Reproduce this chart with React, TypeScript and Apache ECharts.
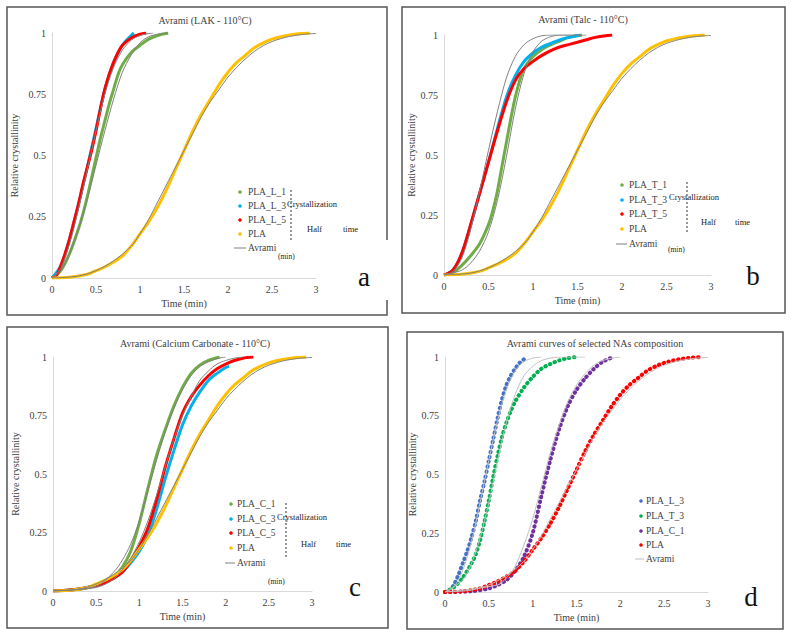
import React, { useEffect, useRef } from "react";
import * as echarts from "echarts";

const X_TICKS = [0, 0.5, 1, 1.5, 2, 2.5, 3];
const Y_TICKS = [0, 0.25, 0.5, 0.75, 1];

const TITLES = [
  "Avrami (LAK - 110°C)",
  "Avrami (Talc - 110°C)",
  "Avrami (Calcium Carbonate - 110°C)",
  "Avrami curves of selected NAs composition",
];
const PANEL_LETTERS = ["a", "b", "c", "d"];
const LEGEND_A = ["PLA_L_1", "PLA_L_3", "PLA_L_5", "PLA", "Avrami"];
const LEGEND_B = ["PLA_T_1", "PLA_T_3", "PLA_T_5", "PLA", "Avrami"];
const LEGEND_C = ["PLA_C_1", "PLA_C_3", "PLA_C_5", "PLA", "Avrami"];
const LEGEND_D = ["PLA_L_3", "PLA_T_3", "PLA_C_1", "PLA", "Avrami"];

// Neat PLA (shared by all panels)
const PLA = [[0,0],[0.2,0.003],[0.4,0.015],[0.5,0.03],[0.6,0.045],[0.7,0.065],[0.8,0.09],[0.9,0.13],[1.0,0.18],[1.1,0.23],[1.2,0.29],[1.3,0.36],[1.4,0.44],[1.5,0.52],[1.6,0.6],[1.7,0.67],[1.8,0.73],[1.9,0.79],[2.0,0.84],[2.1,0.88],[2.2,0.91],[2.3,0.94],[2.4,0.96],[2.5,0.975],[2.6,0.985],[2.7,0.992],[2.8,0.997],[2.93,1.0]];
const PLA_FIT = [[0,0],[0.3,0.008],[0.5,0.03],[0.7,0.07],[0.9,0.13],[1.0,0.18],[1.1,0.24],[1.2,0.31],[1.3,0.38],[1.4,0.45],[1.5,0.52],[1.6,0.59],[1.7,0.66],[1.8,0.72],[1.9,0.77],[2.0,0.82],[2.1,0.86],[2.2,0.895],[2.3,0.925],[2.4,0.948],[2.5,0.965],[2.6,0.977],[2.7,0.986],[2.8,0.992],[2.9,0.996],[3.0,0.998]];

// Panel a (LAK)
const L1 = [[0,0],[0.1,0.03],[0.2,0.1],[0.3,0.2],[0.35,0.26],[0.4,0.33],[0.45,0.41],[0.5,0.49],[0.55,0.57],[0.6,0.64],[0.65,0.71],[0.7,0.77],[0.75,0.83],[0.8,0.87],[0.9,0.92],[1.0,0.95],[1.1,0.975],[1.2,0.99],[1.32,1.0]];
const L3 = [[0,0],[0.1,0.05],[0.2,0.16],[0.3,0.3],[0.4,0.45],[0.5,0.61],[0.6,0.77],[0.7,0.88],[0.8,0.95],[0.9,0.99],[0.93,1.0]];
const L5 = [[0,0],[0.05,0.01],[0.1,0.05],[0.15,0.1],[0.2,0.16],[0.25,0.23],[0.3,0.3],[0.35,0.38],[0.4,0.45],[0.45,0.52],[0.5,0.6],[0.55,0.69],[0.6,0.77],[0.65,0.83],[0.7,0.88],[0.75,0.92],[0.8,0.95],[0.9,0.98],[1.0,0.995],[1.07,1.0]];
const L1_FIT = [[0,0],[0.1,0.03],[0.2,0.1],[0.3,0.2],[0.4,0.32],[0.5,0.46],[0.6,0.6],[0.7,0.73],[0.8,0.84],[0.9,0.91],[1.0,0.96],[1.1,0.985],[1.2,0.995],[1.32,1.0]];
const L5_FIT = [[0,0],[0.1,0.04],[0.2,0.14],[0.3,0.28],[0.4,0.44],[0.5,0.6],[0.6,0.75],[0.7,0.86],[0.8,0.93],[0.9,0.97],[1.0,0.99],[1.1,0.998],[1.15,1.0]];

// Panel b (Talc)
const T1 = [[0,0],[0.1,0.01],[0.2,0.04],[0.3,0.08],[0.4,0.13],[0.5,0.21],[0.55,0.27],[0.6,0.35],[0.65,0.45],[0.7,0.55],[0.75,0.65],[0.8,0.74],[0.85,0.81],[0.9,0.86],[1.0,0.91],[1.1,0.94],[1.2,0.96],[1.3,0.975],[1.4,0.99],[1.55,1.0]];
const T3 = [[0,0],[0.1,0.02],[0.2,0.09],[0.3,0.21],[0.4,0.34],[0.5,0.47],[0.6,0.61],[0.7,0.74],[0.8,0.83],[0.9,0.89],[1.0,0.925],[1.1,0.95],[1.2,0.965],[1.3,0.98],[1.4,0.99],[1.53,1.0]];
const T5 = [[0,0],[0.1,0.02],[0.2,0.09],[0.3,0.21],[0.4,0.34],[0.5,0.47],[0.6,0.6],[0.7,0.72],[0.8,0.81],[0.9,0.86],[1.0,0.89],[1.1,0.915],[1.2,0.935],[1.3,0.95],[1.4,0.96],[1.5,0.97],[1.6,0.98],[1.7,0.99],[1.8,0.996],[1.89,1.0]];
const T_FAST_FIT = [[0,0],[0.1,0.015],[0.2,0.07],[0.3,0.19],[0.4,0.35],[0.5,0.52],[0.6,0.68],[0.7,0.82],[0.8,0.91],[0.9,0.96],[1.0,0.985],[1.1,0.997],[1.2,1.0],[1.55,1.0]];
const T1_FIT = [[0,0],[0.2,0.02],[0.3,0.05],[0.4,0.1],[0.5,0.18],[0.6,0.31],[0.7,0.49],[0.8,0.69],[0.9,0.84],[1.0,0.93],[1.1,0.975],[1.2,0.993],[1.3,1.0],[1.6,1.0]];

// Panel c (Calcium carbonate)
const C1 = [[0,0],[0.2,0.004],[0.4,0.015],[0.6,0.04],[0.7,0.06],[0.8,0.1],[0.9,0.17],[1.0,0.29],[1.1,0.44],[1.2,0.58],[1.3,0.69],[1.4,0.79],[1.5,0.87],[1.6,0.93],[1.7,0.965],[1.8,0.985],[1.93,1.0]];
const C3 = [[0,0],[0.2,0.004],[0.4,0.015],[0.6,0.035],[0.8,0.08],[0.9,0.12],[1.0,0.17],[1.1,0.24],[1.2,0.35],[1.3,0.48],[1.4,0.6],[1.5,0.71],[1.6,0.79],[1.7,0.85],[1.8,0.9],[1.9,0.93],[2.0,0.955],[2.04,0.96]];
const C5 = [[0,0],[0.2,0.004],[0.4,0.015],[0.6,0.035],[0.8,0.08],[0.9,0.13],[1.0,0.19],[1.1,0.27],[1.2,0.39],[1.3,0.53],[1.4,0.65],[1.5,0.76],[1.6,0.83],[1.7,0.88],[1.8,0.92],[1.9,0.95],[2.0,0.97],[2.1,0.985],[2.2,0.995],[2.32,1.0]];
const C1_FIT = [[0,0],[0.5,0.02],[0.7,0.08],[0.8,0.13],[0.9,0.2],[1.0,0.3],[1.1,0.43],[1.2,0.56],[1.3,0.68],[1.4,0.78],[1.5,0.86],[1.6,0.92],[1.7,0.96],[1.8,0.98],[1.9,0.993],[2.0,1.0]];
const C5_FIT = [[0,0],[0.5,0.015],[0.7,0.05],[0.8,0.09],[0.9,0.14],[1.0,0.21],[1.1,0.3],[1.2,0.41],[1.3,0.53],[1.4,0.65],[1.5,0.75],[1.6,0.83],[1.7,0.9],[1.8,0.94],[1.9,0.97],[2.0,0.985],[2.1,0.995],[2.2,1.0]];

// Panel d (selected)
const D_L3 = [[0,0],[0.05,0.005],[0.1,0.03],[0.15,0.07],[0.2,0.12],[0.25,0.17],[0.3,0.23],[0.35,0.3],[0.4,0.39],[0.45,0.47],[0.5,0.56],[0.55,0.65],[0.6,0.74],[0.65,0.82],[0.7,0.88],[0.75,0.92],[0.8,0.95],[0.85,0.975],[0.9,0.99],[0.94,1.0]];
const D_T3 = [[0,0],[0.1,0.02],[0.2,0.06],[0.3,0.12],[0.35,0.16],[0.4,0.22],[0.45,0.3],[0.5,0.39],[0.55,0.49],[0.6,0.58],[0.65,0.66],[0.7,0.72],[0.75,0.77],[0.8,0.81],[0.9,0.87],[1.0,0.915],[1.1,0.95],[1.2,0.97],[1.3,0.985],[1.4,0.995],[1.5,1.0]];
const D_C1 = [[0,0],[0.3,0.003],[0.5,0.015],[0.6,0.03],[0.7,0.05],[0.8,0.09],[0.9,0.15],[1.0,0.25],[1.1,0.41],[1.2,0.56],[1.3,0.69],[1.4,0.79],[1.5,0.86],[1.6,0.91],[1.7,0.95],[1.8,0.98],[1.92,1.0]];
const D_L3_FIT = [[0,0],[0.1,0.02],[0.2,0.09],[0.3,0.21],[0.4,0.38],[0.5,0.56],[0.6,0.73],[0.7,0.86],[0.8,0.94],[0.9,0.98],[1.0,0.995],[1.1,1.0]];
const D_T3_FIT = [[0,0],[0.2,0.05],[0.3,0.12],[0.4,0.23],[0.5,0.38],[0.6,0.56],[0.7,0.72],[0.8,0.84],[0.9,0.92],[1.0,0.96],[1.1,0.985],[1.2,0.995],[1.3,1.0],[1.6,1.0]];
const D_C1_FIT = [[0,0],[0.6,0.03],[0.7,0.06],[0.8,0.11],[0.9,0.2],[1.0,0.31],[1.1,0.45],[1.2,0.59],[1.3,0.71],[1.4,0.81],[1.5,0.88],[1.6,0.93],[1.7,0.965],[1.8,0.985],[1.9,0.995],[2.0,1.0]];

const SERIF = "Liberation Serif";
const TXT = "#404040";

const GRIDS = [
  { left: 52, top: 33, width: 264, height: 245 },
  { left: 444, top: 35, width: 267, height: 240 },
  { left: 53, top: 357, width: 259, height: 234 },
  { left: 445, top: 357, width: 263, height: 235 },
];

function dataSeries(name: string, data: number[][], color: string, g: number, dotted = false) {
  return {
    type: "line",
    name,
    data,
    xAxisIndex: g,
    yAxisIndex: g,
    showSymbol: false,
    smooth: 0.3,
    z: 2,
    itemStyle: { color },
    lineStyle: dotted
      ? { color, width: 4, type: [0.5, 4.5], cap: "round" }
      : { color, width: 3 },
    emphasis: { disabled: true },
  };
}
function fitSeries(data: number[][], color: string, g: number) {
  return {
    type: "line",
    name: "Avrami",
    data,
    xAxisIndex: g,
    yAxisIndex: g,
    showSymbol: false,
    smooth: 0.3,
    z: 3,
    itemStyle: { color },
    lineStyle: { color, width: 1 },
    emphasis: { disabled: true },
  };
}

function legendGraphics(labels: string[], colors: string[], mx: number, tx: number, ys: number[], fitColor: string) {
  const els: any[] = [];
  for (let i = 0; i < 4; i++) {
    els.push({ type: "circle", shape: { cx: mx, cy: ys[i], r: 1.8 }, style: { fill: colors[i] }, z: 10 });
    els.push({ type: "text", x: tx, y: ys[i], style: { text: labels[i], fontFamily: SERIF, fontSize: 9.5, fill: TXT, verticalAlign: "middle" }, z: 10 });
  }
  els.push({ type: "line", shape: { x1: mx - 6, y1: ys[4], x2: tx - 2, y2: ys[4] }, style: { stroke: fitColor, lineWidth: 1 }, z: 10 });
  els.push({ type: "text", x: tx, y: ys[4], style: { text: labels[4], fontFamily: SERIF, fontSize: 9.5, fill: TXT, verticalAlign: "middle" }, z: 10 });
  return els;
}

function halfTimeBox(cx: number, cy: number, lx: number, ly0: number, ly1: number, hx: number, hy: number, tx: number, mx: number, my: number) {
  const s = (text: string, x: number, y: number, size: number) => ({
    type: "text", x, y, z: 11,
    style: { text, fontFamily: SERIF, fontSize: size, fill: "#222", verticalAlign: "middle" },
  });
  return [
    { type: "line", z: 11, shape: { x1: lx, y1: ly0, x2: lx, y2: ly1 }, style: { stroke: "#333", lineWidth: 1, lineDash: [2, 2] } },
    s("Crystallization", cx, cy, 8.5),
    s("Half", hx, hy, 8.5),
    s("time", tx, hy, 8.5),
    s("(min)", mx, my, 7.5),
  ];
}

export default function App() {
  const ref = useRef<HTMLDivElement>(null);
  useEffect(() => {
    if (!ref.current) return;
    const chart = echarts.init(ref.current, undefined, { renderer: "svg" });

    const xAxes = GRIDS.map((_, i) => ({
      type: "value",
      gridIndex: i,
      min: X_TICKS[0],
      max: X_TICKS[X_TICKS.length - 1],
      interval: X_TICKS[1] - X_TICKS[0],
      axisLine: { show: true, lineStyle: { color: "#d9d9d9" } },
      axisTick: { show: false },
      splitLine: { show: false },
      axisLabel: { fontFamily: SERIF, fontSize: 10, color: TXT, margin: 6 },
      name: "Time (min)",
      nameLocation: "middle",
      nameGap: 20,
      nameTextStyle: { fontFamily: SERIF, fontSize: 10, color: TXT },
    }));
    const yAxes = GRIDS.map((_, i) => ({
      type: "value",
      gridIndex: i,
      min: Y_TICKS[0],
      max: Y_TICKS[Y_TICKS.length - 1],
      interval: Y_TICKS[1] - Y_TICKS[0],
      axisLine: { show: true, lineStyle: { color: "#d9d9d9" } },
      axisTick: { show: false },
      splitLine: { show: false },
      axisLabel: { fontFamily: SERIF, fontSize: 10, color: TXT, margin: 6 },
      name: "Relative crystallinity",
      nameLocation: "middle",
      nameGap: i % 2 === 0 ? 33 : 28,
      nameTextStyle: { fontFamily: SERIF, fontSize: 10, color: TXT },
    }));

    const GR = "#808080";
    const GL = "#c0c0c0";
    const series: any[] = [
      dataSeries("PLA_L_1", L1, "#70AD47", 0),
      dataSeries("PLA_L_3", L3, "#00B0F0", 0),
      dataSeries("PLA_L_5", L5, "#FF0000", 0),
      dataSeries("PLA", PLA, "#FFC000", 0),
      fitSeries(L1_FIT, GR, 0),
      fitSeries(L5_FIT, GR, 0),
      fitSeries(PLA_FIT, GR, 0),

      dataSeries("PLA_T_1", T1, "#70AD47", 1),
      dataSeries("PLA_T_3", T3, "#00B0F0", 1),
      dataSeries("PLA_T_5", T5, "#FF0000", 1),
      dataSeries("PLA", PLA, "#FFC000", 1),
      fitSeries(T_FAST_FIT, GR, 1),
      fitSeries(T1_FIT, GR, 1),
      fitSeries(PLA_FIT, GR, 1),

      dataSeries("PLA_C_1", C1, "#70AD47", 2),
      dataSeries("PLA_C_3", C3, "#00B0F0", 2),
      dataSeries("PLA_C_5", C5, "#FF0000", 2),
      dataSeries("PLA", PLA, "#FFC000", 2),
      fitSeries(C1_FIT, GR, 2),
      fitSeries(C5_FIT, GR, 2),
      fitSeries(PLA_FIT, GR, 2),

      fitSeries(D_L3_FIT, GL, 3),
      fitSeries(D_T3_FIT, GL, 3),
      fitSeries(D_C1_FIT, GL, 3),
      fitSeries(PLA_FIT, GL, 3),
      dataSeries("PLA_L_3", D_L3, "#4472C4", 3, true),
      dataSeries("PLA_T_3", D_T3, "#00B050", 3, true),
      dataSeries("PLA_C_1", D_C1, "#7030A0", 3, true),
      dataSeries("PLA", PLA, "#FF0000", 3, true),
    ];

    const titlePos = [
      [205, 20],
      [583, 19],
      [195, 343],
      [595, 343],
    ];
    const letterPos = [
      [364, 277],
      [753, 276],
      [355, 587],
      [751, 597],
    ];

    const graphic: any[] = [
      { type: "rect", shape: { x: 7, y: 7, width: 380, height: 308 }, style: { fill: "none", stroke: "#555", lineWidth: 1.5 }, z: 0 },
      { type: "rect", shape: { x: 382, y: 240, width: 10, height: 60 }, style: { fill: "#fff" }, z: 1 },
      { type: "rect", shape: { x: 402, y: 7, width: 383, height: 306 }, style: { fill: "none", stroke: "#555", lineWidth: 1.5 }, z: 0 },
      { type: "rect", shape: { x: 7, y: 327, width: 381, height: 301 }, style: { fill: "none", stroke: "#555", lineWidth: 1.5 }, z: 0 },
      { type: "rect", shape: { x: 407, y: 332, width: 376, height: 297 }, style: { fill: "none", stroke: "#555", lineWidth: 1.5 }, z: 0 },
      ...TITLES.map((t, i) => ({
        type: "text", x: titlePos[i][0], y: titlePos[i][1], z: 10,
        style: { text: t, fontFamily: SERIF, fontSize: 10, fill: TXT, align: "center", verticalAlign: "middle" },
      })),
      ...PANEL_LETTERS.map((t, i) => ({
        type: "text", x: letterPos[i][0], y: letterPos[i][1], z: 10,
        style: { text: t, fontFamily: SERIF, fontSize: 27, fill: "#111", align: "center", verticalAlign: "middle" },
      })),
      ...legendGraphics(LEGEND_A, ["#70AD47", "#00B0F0", "#FF0000", "#FFC000"], 240, 248, [192, 206, 220, 234, 248], GR),
      ...legendGraphics(LEGEND_B, ["#70AD47", "#00B0F0", "#FF0000", "#FFC000"], 622, 629, [185, 200, 214, 229, 244], GR),
      ...legendGraphics(LEGEND_C, ["#70AD47", "#00B0F0", "#FF0000", "#FFC000"], 231, 237, [504, 519, 533, 548, 563], GR),
      ...legendGraphics(LEGEND_D, ["#4472C4", "#00B050", "#7030A0", "#FF0000"], 641, 646, [501, 516, 531, 545, 559], GL),
      ...halfTimeBox(287, 204, 291, 190, 242, 307, 229, 343, 278, 256),
      ...halfTimeBox(669, 197, 687, 182, 233, 701, 222, 735, 668, 249),
      ...halfTimeBox(277, 517, 286, 503, 557, 301, 544, 336, 268, 581),
    ];

    chart.setOption({
      animation: false,
      backgroundColor: "#ffffff",
      grid: GRIDS.map((g) => ({ ...g, containLabel: false })),
      xAxis: xAxes,
      yAxis: yAxes,
      series,
      graphic,
    });
    return () => chart.dispose();
  }, []);

  return (
    <div
      ref={ref}
      style={{ position: "fixed", left: 0, top: 0, width: 791, height: 638, background: "#fff" }}
    />
  );
}
